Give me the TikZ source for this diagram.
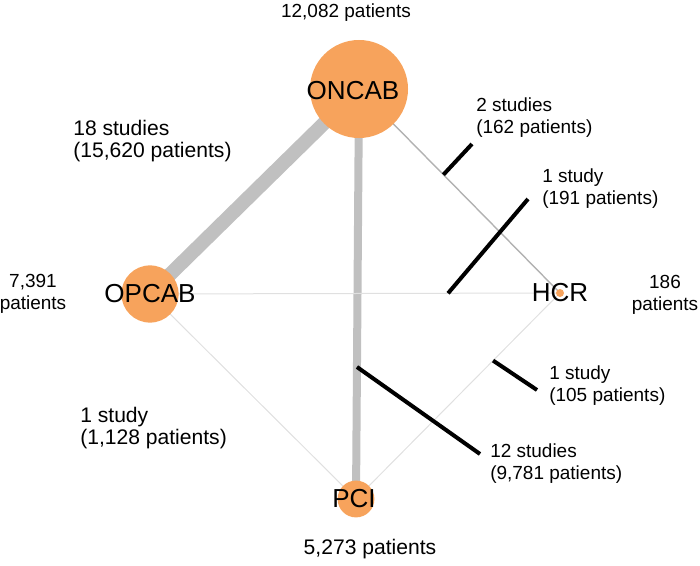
\documentclass[tikz,border=0pt]{standalone}
\usepackage{fontspec}
\setmainfont{Liberation Sans}
\usetikzlibrary{calc,backgrounds}

\definecolor{armorange}{RGB}{247,163,92}
\definecolor{thickgray}{RGB}{192,192,192}
\definecolor{midgray}{RGB}{178,178,178}
\definecolor{faintgray}{RGB}{224,224,224}

\begin{document}
\begin{tikzpicture}[x=0.025cm, y=-0.025cm,
    arm/.style={circle, fill=armorange, inner sep=0pt},
    armname/.style={font=\fontsize{18.5}{20}\selectfont, inner sep=0pt},
    info/.style={font=\fontsize{13.5}{15.6}\selectfont, inner sep=0pt},
    biginfo/.style={font=\fontsize{15}{15.6}\selectfont, inner sep=0pt},
    leader/.style={line width=0.1cm, black}]
\useasboundingbox (0,0) rectangle (700,566);

% treatment arms
\node[arm, minimum size=2.45cm] (oncab) at (359,89) {};
\node[arm, minimum size=1.43cm] (opcab) at (150,294) {};
\node[arm, minimum size=0.2cm] (hcr) at (560,293) {};
\node[arm, minimum size=0.92cm] (pci) at (356,499) {};

\node[armname] (oncab-t) at ($(oncab)+(-6,2)$) {ONCAB};
\node[armname] (opcab-t) at (opcab) {OPCAB};
\node[armname] (hcr-t) at (hcr) {HCR};
\node[armname] (pci-t) at ($(pci)+(-2,0)$) {PCI};

% comparisons
\begin{scope}[on background layer]
\draw[thickgray, line width=0.35cm] (oncab.center) -- (opcab.center);
\draw[thickgray, line width=0.2cm] (oncab.center) -- (pci.center);
\draw[midgray, line width=0.035cm] (oncab.center) -- (hcr.center);
\draw[faintgray, line width=0.025cm] (opcab.center) -- (hcr.center);
\draw[faintgray, line width=0.025cm] (opcab.center) -- (pci.center);
\draw[faintgray, line width=0.025cm] (hcr.center) -- (pci.center);
\end{scope}

% patients per arm
\node[info] (n-oncab) at (346,13) {12,082 patients};
\node[info, align=center] (n-opcab) at (33,294) {7,391\\patients};
\node[info, align=center] (n-hcr) at (665,295) {186\\patients};
\node[biginfo] (n-pci) at (370,549) {5,273 patients};

% studies per comparison
\node[biginfo, align=left, anchor=west] (s-oo) at (73,141) {18 studies\\(15,620 patients)};
\node[biginfo, align=left, anchor=west] (s-op) at (80,428) {1 study\\(1,128 patients)};
\node[info, align=left, anchor=west] (s-oh) at (476,118) {2 studies\\(162 patients)};
\node[info, align=left, anchor=west] (s-ph) at (542,189) {1 study\\(191 patients)};
\node[info, align=left, anchor=west] (s-hp) at (549,386) {1 study\\(105 patients)};
\node[info, align=left, anchor=west] (s-np) at (490,464) {12 studies\\(9,781 patients)};

\coordinate (a-oh) at ($(oncab)!0.42!(hcr)$);
\coordinate (b-oh) at (472,144);
\coordinate (a-ph) at ($(opcab)!0.727!(hcr)$);
\coordinate (b-ph) at (528,199);
\coordinate (a-hp) at ($(hcr)!0.328!(pci)$);
\coordinate (b-hp) at (537,390);
\coordinate (a-np) at ($(oncab)!0.678!(pci)$);
\coordinate (b-np) at (480,454);

\draw[leader] (a-oh) -- (b-oh);
\draw[leader] (a-ph) -- (b-ph);
\draw[leader] (a-hp) -- (b-hp);
\draw[leader] (a-np) -- (b-np);
\end{tikzpicture}
\end{document}
